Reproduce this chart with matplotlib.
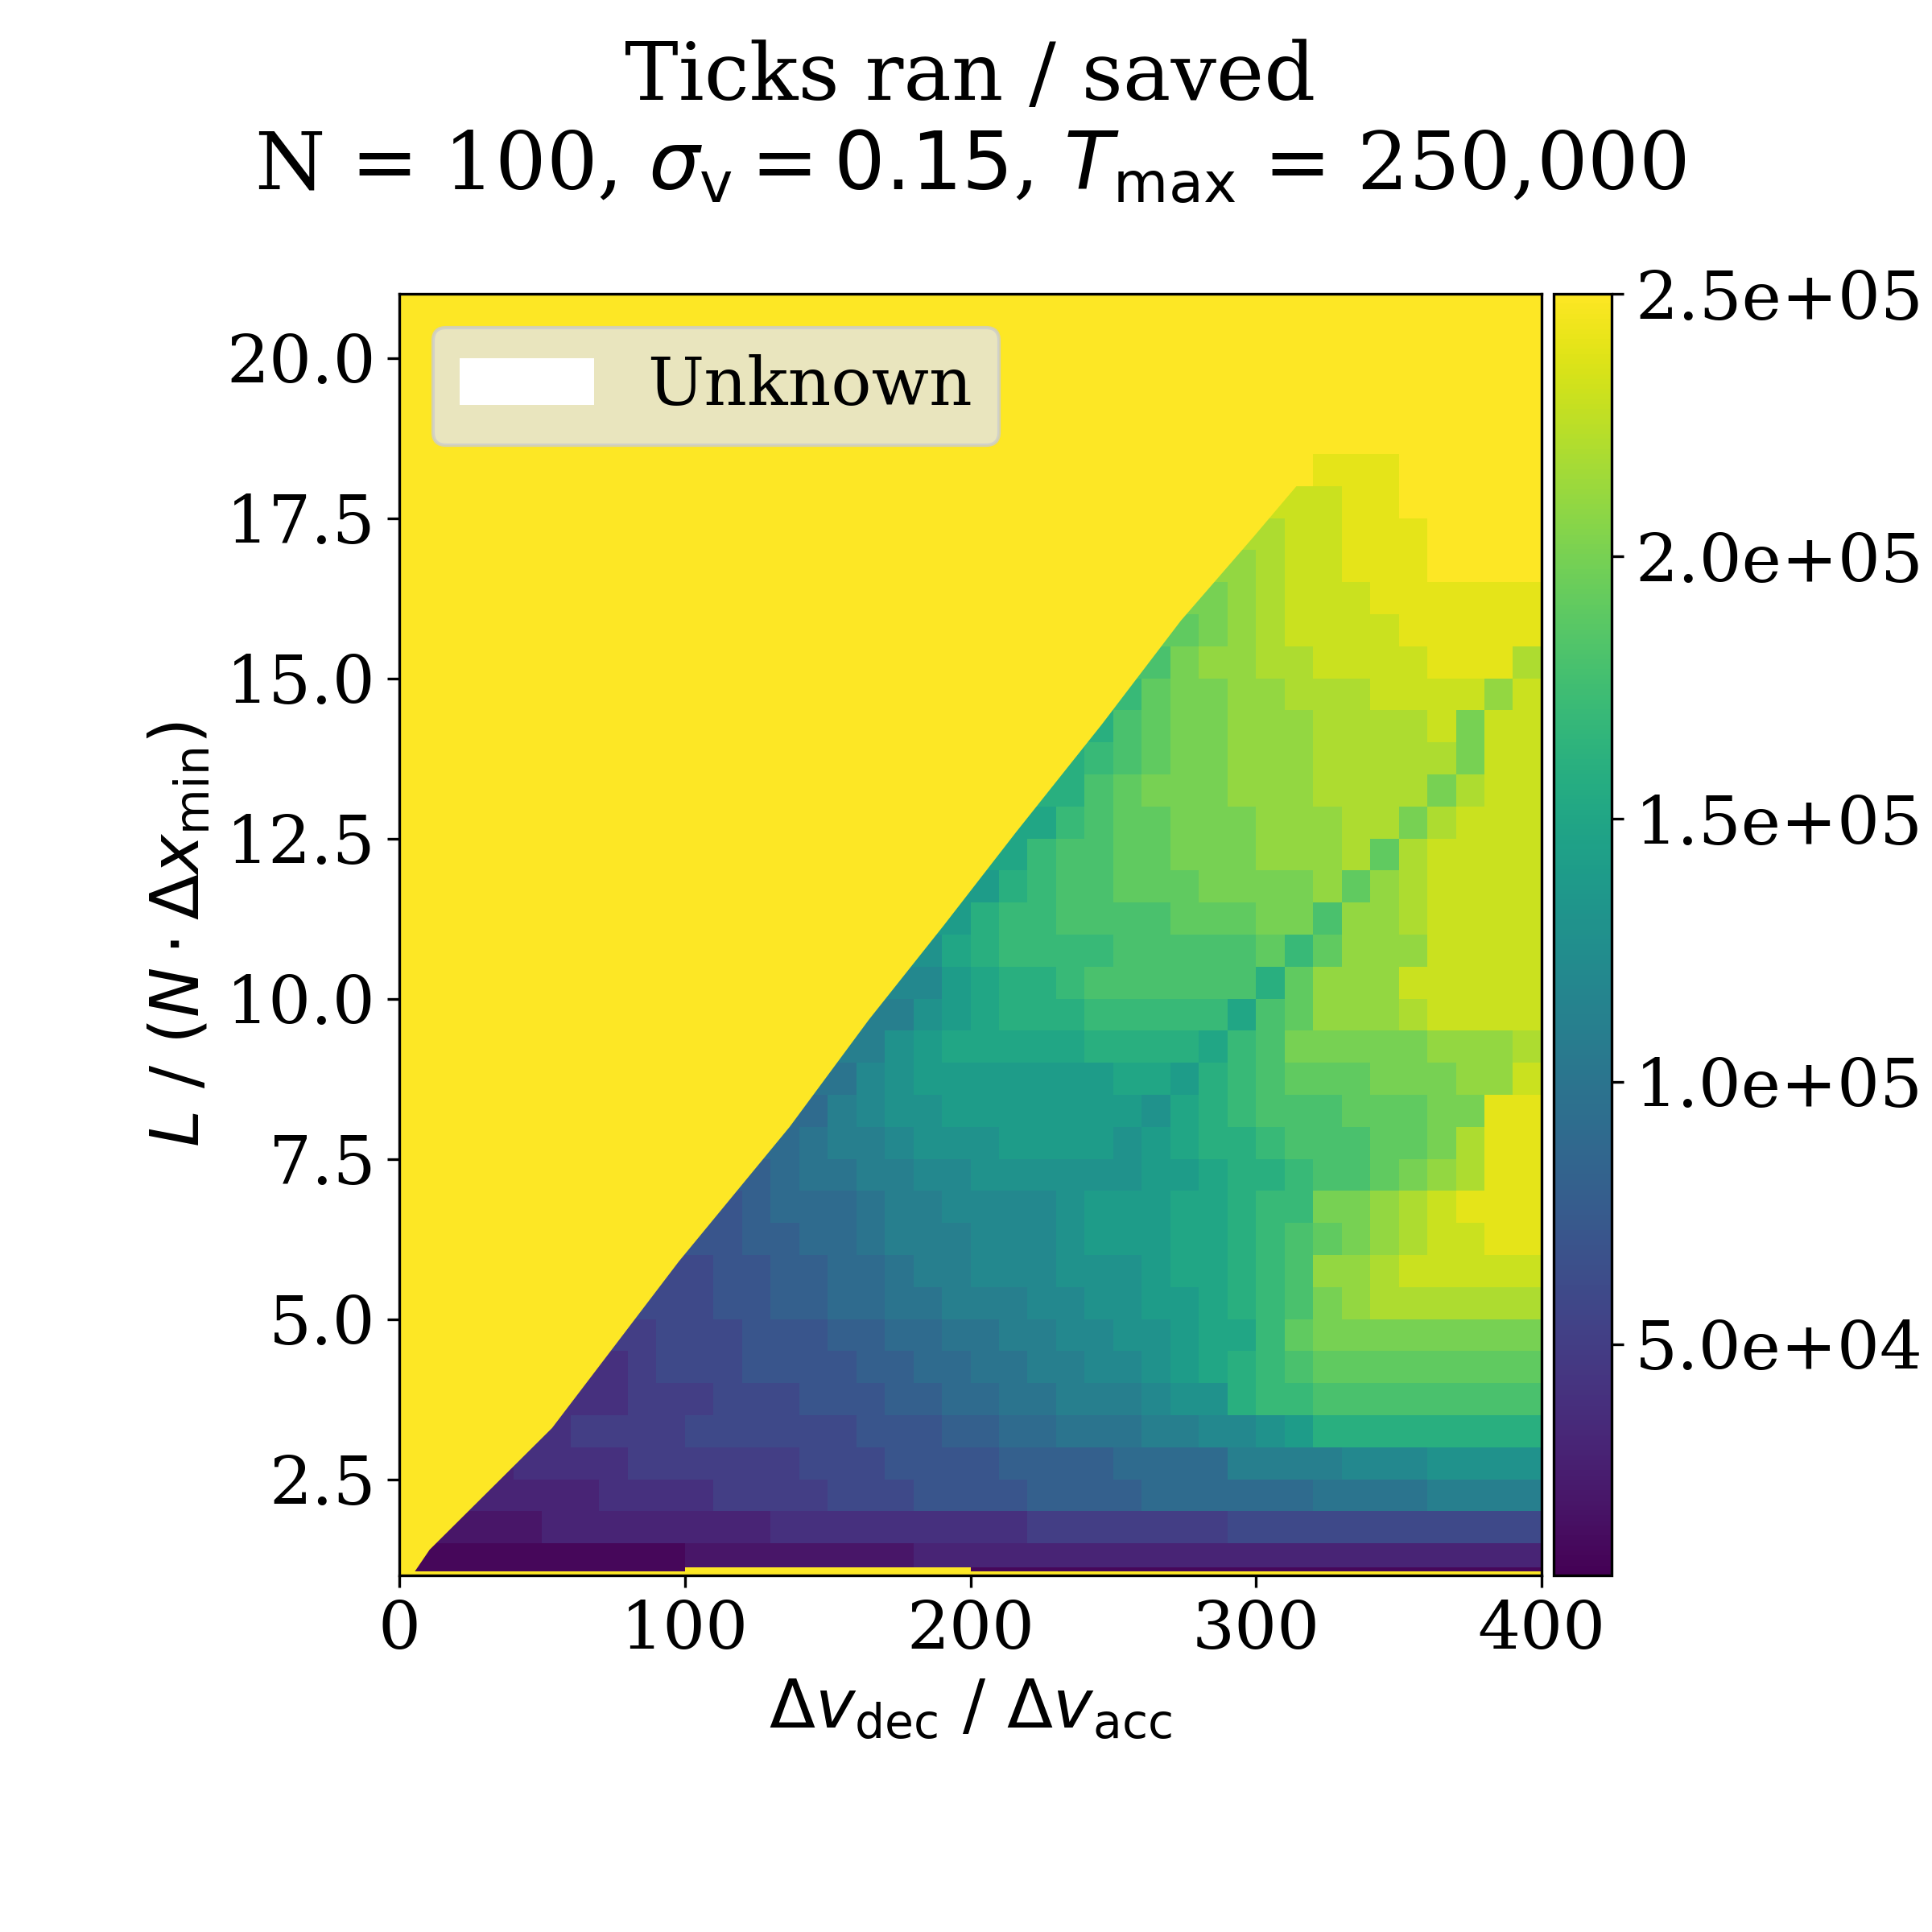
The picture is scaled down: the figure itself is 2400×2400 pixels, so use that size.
import numpy as np
import matplotlib.pyplot as plt
import matplotlib.patches as mpatches

plt.rcParams['font.family'] = 'serif'

# sweep grid: dv_dec / dv_acc along x, L / (N * dx_min) along y
x_edges = np.arange(0, 401, 10)
y_edges = [1.0, 1.06, 1.12] + list(np.arange(1.5, 21.01, 0.5))

x_ticks = [0, 100, 200, 300, 400]
y_ticks = [2.5, 5.0, 7.5, 10.0, 12.5, 15.0, 17.5, 20.0]

# edge of the region where every run hit Tmax
boundary_x = [0, 4.5, 10.6, 53.5, 97.9, 136.7, 164.4, 190.6, 216.0, 246.0, 273.7, 299.0, 318.0]
boundary_y = [1.0, 1.0, 1.4, 3.3, 5.9, 8.0, 9.67, 11.14, 12.6, 14.28, 15.9, 17.2, 18.2]

# ticks ran in units of 1e4, one char per 10 x 0.5 cell (P = 25 -> Tmax reached)
levels = "0123456789ABCDEFGHIJKLMNOP"
rows = [
    "P" * 40,                                                 # y 20.75
    "P" * 40,
    "P" * 40,
    "P" * 40,
    "P" * 40,                                                 # y 18.75
    "P" * 32 + "OOO PPPPP",
    "P" * 30 + "N N NOO PPPPP",
    "P" * 29 + "M M NNO OO PPPP",
    "P" * 28 + "L L M NNO OOP PPP",
    "P" * 27 + "K K L MNN NOOO OOO",                          # y 16.25
    "P" * 26 + "J J K LMN NNNO OOOO",
    "P" * 25 + "I I K LLM MNNN NOOO M",
    "P" * 24 + "H H J KKL LMMM NNNN L N",
    "P" * 23 + "G G I JKK LLLM MMMN K NN",
    "P" * 22 + "G G H IJK KLLL MMMM M K NN",                  # y 13.75
    "P" * 22 + "G G IJK KKLL LMM MM K MNN",
    "P" * 21 + "F F HIJ JKKK LLL MM K MN NN",
    "P" * 20 + "F F HII JJKK KLL LM J MN NNN",
    "P" * 19 + "E E GHI IJJJ KKK KL J LM NNNN",
    "P" * 18 + "E E GHH IIII JJJ KK I LLM NNNN",              # y 11.25
    "P" * 17 + "D D FG HHHHI IIII J H J LLL NNNN",
    "P" * 17 + "C C EF GGH IIIII I G J LLL NNNNN",
    "P" * 16 + "B B D E FGGG HHHH H F I J LLL MNNNN",
    "P" * 15 + "B B DE FFFF FGGGG F HI KKK KKL LLM",
    "P" * 14 + "A A CD EEEEE EEFFE GHI JJJ KKK LL N",          # y 8.75
    "P" * 13 + "9 9 BC DDE EEEE EED FGH I II JJJK K OO",
    "P" * 12 + "9 9 ABB CDD DEEE EDEF GGH II IJJ K M OO",
    "P" * 11 + "8 8 9AA BB CCDDD DDD EEF GG H II J K L M OO",
    "P" * 10 + "7 78 999 AB BCCCC DEE EFF GH H KK LM N OOO",
    "P" * 9 + "7 778 899A BBB CCC DEE EFF GH I J KL M NNOO",      # y 6.25
    "P" * 9 + "6 677 8899 ABB CCC DDD EFF GH I LLM NNNNN",
    "P" * 8 + "6 6 677 8899 AAB BBC CDD EEF GH I KL MMMMMM",
    "P" * 7 + "5 56 667 7788 99A ABB CCDD EFF H JKKKKKKKK",
    "P" * 6 + "4 45 666 7777 889 9AAB BCCD EFG HI JJJJJJJJ",
    "P" * 5 + "4 44 5556 66777 8899 AABBB CDD GHH IIIIIIII",     # y 3.75
    "P" * 4 + "4 455 5566 66667 7788 99AAA BBCC DE GGGGGGGG",
    "P" * 3 + "3 4 444 555555 666 7777 8888 9999 BBBB CCCDDDD",
    "P" * 2 + "3 3333 4444 5555 666 7777 8888 999999 AAAA BBBB",
    "P" + "2 222 333333 334444 44444 5555555 66666666666",
    "1111111111 22222222 3333333333333333333333",             # y 1.31
    "1111111111 PPPPPPPPPP 11111111111111111111",             # y 1.09
    "P" * 40,                                                 # y 1.03
]

grid = []
for r in rows:
    r = r.replace(" ", "")
    r = (r + r[-1] * 40)[:40]
    grid.append([levels.index(ch) * 1e4 for ch in r])
ticks_ran = np.flipud(np.array(grid))

vmin, vmax = 6000, 250000
y_top = 21.0

fig = plt.figure(figsize=(8, 8), dpi=300)
ax = fig.add_axes([0.2067, 0.1846, 0.5912, 0.6633])
cax = fig.add_axes([0.8042, 0.1846, 0.030, 0.6633])

mesh = ax.pcolormesh(x_edges, y_edges, ticks_ran, cmap="viridis",
                     vmin=vmin, vmax=vmax, shading="flat")

# saturated (Tmax) wedge drawn with its own edge so it is not a staircase
ax.fill(boundary_x + [boundary_x[-1], boundary_x[0]],
        boundary_y + [y_top, y_top],
        color=plt.cm.viridis(1.0), linewidth=0, zorder=2)

ax.set_xlim(0, 400)
ax.set_ylim(1.0, y_top)
ax.set_xticks(x_ticks)
ax.set_yticks(y_ticks)
ax.tick_params(labelsize=20)

cb = fig.colorbar(mesh, cax=cax, format="%.1e")
cb.ax.tick_params(labelsize=20)

ax.set_xlabel(r"$\Delta v_{\mathrm{dec}}\ /\ \Delta v_{\mathrm{acc}}$", fontsize=20)
ax.set_ylabel(r"$L\ /\ (N \cdot \Delta x_{\mathrm{min}})$", fontsize=20)
ax.set_title("Ticks ran / saved\n"
             r"N = 100, $\sigma_{\mathrm{v}} = 0.15$, $T_{\mathrm{max}}$ = 250,000",
             fontsize=24, pad=31)

unknown = mpatches.Patch(facecolor="white", label="Unknown")
ax.legend(handles=[unknown], loc="upper left", fontsize=20,
          facecolor="#e5e5e5", framealpha=0.8)

fig.savefig("out.png", dpi=300)
